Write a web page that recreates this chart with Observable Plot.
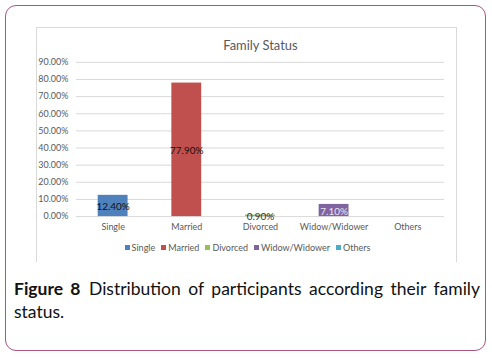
<!DOCTYPE html>
<html>
<head>
<meta charset="utf-8">
<script src="https://cdn.jsdelivr.net/npm/d3@7"></script>
<script src="https://cdn.jsdelivr.net/npm/@observablehq/plot@0.6"></script>
<style>
  html, body { margin: 0; padding: 0; background: #fff; }
  #frame {
    position: absolute; left: 5px; top: 5px; width: 481px; height: 346px;
    border: 1.5px solid #a8557f; border-radius: 11px; box-sizing: border-box;
  }
  #chart {
    position: absolute; left: 36px; top: 27px; width: 421px; height: 235px;
    border: 1px solid #d9d9d9; border-bottom: none; box-sizing: border-box;
  }
  #chart svg { position: absolute; left: -1px; top: -1px; }
  #legend {
    position: absolute; left: 0; top: 214px; width: 421px; text-align: center;
    font: 9px Lato, "Open Sans", sans-serif; color: #595959; white-space: nowrap;
  }
  #legend span.item { margin: 0 3px; }
  #legend span.sw { display: inline-block; width: 5px; height: 5px; margin-right: 2px; vertical-align: 1px; }
  #caption {
    position: absolute; left: 14px; top: 277px; width: 466px;
    font: 17.5px/23px Lato, "Open Sans", sans-serif; color: #111; text-align: justify;
  }
  #caption b { margin-right: 1px; }
</style>
</head>
<body>
<div id="frame"></div>
<div id="chart"></div>
<div id="caption"><b>Figure 8</b> <span>Distribution of participants according their family status.</span></div>
<script>
const categories = ["Single", "Married", "Divorced", "Widow/Widower", "Others"];
const values = [12.4, 77.9, 0.9, 7.1, 0];
const colors = ["#4f81bd", "#c0504d", "#9bbb59", "#8064a2", "#4bacc6"];
const labelColors = ["#111", "#111", "#333", "#e8e4ee", "#111"];
const yTicks = [0, 10, 20, 30, 40, 50, 60, 70, 80, 90];
const title = "Family Status";

const data = categories.map((c, i) => ({cat: c, v: values[i], lc: labelColors[i]}));
const shown = data.filter(d => d.v > 0);

const plot = Plot.plot({
  width: 421,
  height: 235,
  marginLeft: 40,
  marginRight: 11,
  marginTop: 35,
  marginBottom: 45,
  style: {fontFamily: "Lato, 'Open Sans', sans-serif", fontSize: "9px", color: "#595959", background: "transparent"},
  x: {domain: categories, paddingInner: 0.59, paddingOuter: 0.295, label: null, tickSize: 0, tickPadding: 6},
  y: {domain: [0, 90], ticks: yTicks, label: null, tickSize: 0, tickPadding: 8,
      tickFormat: d => d.toFixed(2) + "%"},
  color: {domain: categories, range: colors},
  marks: [
    Plot.ruleY(yTicks, {stroke: "#d9d9d9", strokeWidth: 1}),
    Plot.barY(data, {x: "cat", y: "v", fill: "cat"}),
    Plot.text(shown, {x: "cat", y: d => d.v / 2, text: d => d.v.toFixed(2) + "%",
      fill: "lc", fontSize: 10, dy: 1}),
    Plot.axisY({ticks: yTicks, tickSize: 0, tickPadding: 8, tickFormat: d => d.toFixed(2) + "%", fill: "#595959", fontSize: 9}),
    Plot.axisX({tickSize: 0, tickPadding: 7, fill: "#595959", fontSize: 9}),
    Plot.text([title], {frameAnchor: "top", dy: -22, fontSize: 13, fill: "#595959"})
  ]
});
const chart = document.getElementById("chart");
chart.appendChild(plot);

const legend = document.createElement("div");
legend.id = "legend";
categories.forEach((c, i) => {
  const item = document.createElement("span");
  item.className = "item";
  const sw = document.createElement("span");
  sw.className = "sw";
  sw.style.background = colors[i];
  item.appendChild(sw);
  item.appendChild(document.createTextNode(c));
  legend.appendChild(item);
});
chart.appendChild(legend);
</script>
</body>
</html>
